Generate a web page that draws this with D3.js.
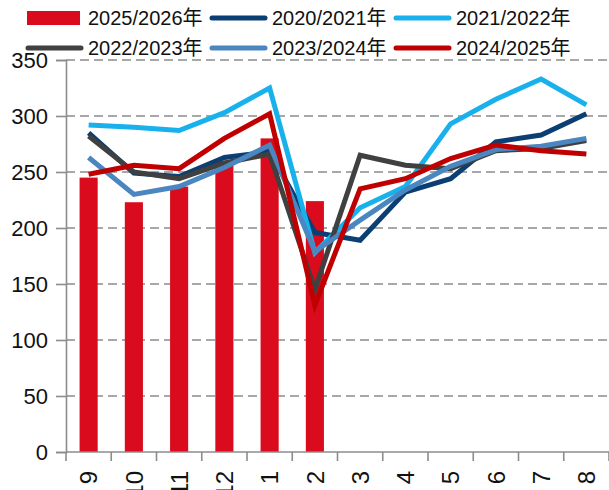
<!DOCTYPE html>
<html>
<head>
<meta charset="utf-8">
<script src="https://cdn.jsdelivr.net/npm/d3@7"></script>
<style>
  body { margin: 0; background: #fff; }
  text { font-family: "Liberation Sans", Arial, "Noto Sans CJK SC", sans-serif; fill: #111; }
</style>
</head>
<body>
<div id="chart"></div>
<script>
// 月份
const months = ["9", "10", "11", "12", "1", "2", "3", "4", "5", "6", "7", "8"];

// 柱状：2025/2026年
const bars2526 = [245, 223, 237, 260, 280, 224];

// 折线
const s2021 = [285, 249, 246, 263, 268, 196, 189, 232, 244, 277, 283, 302];
const s2122 = [292, 290, 287, 303, 325, 178, 218, 237, 293, 315, 333, 310];
const s2223 = [282, 250, 244, 258, 266, 145, 265, 256, 253, 269, 271, 278];
const s2324 = [263, 230, 237, 254, 274, 179, 207, 234, 255, 270, 273, 280];
const s2425 = [248, 256, 253, 280, 302, 131, 235, 244, 262, 274, 269, 266];

const yTicks = [0, 50, 100, 150, 200, 250, 300, 350];

const lineSeries = [
    { name: "2020/2021年", values: s2021, color: "#0b3f73" },
    { name: "2021/2022年", values: s2122, color: "#19b1ec" },
    { name: "2022/2023年", values: s2223, color: "#404040" },
    { name: "2023/2024年", values: s2324, color: "#4a86bf" },
    { name: "2024/2025年", values: s2425, color: "#c00000" }
];
const barColor = "#d90b1c";

const W = 609, H = 490;
const plotLeft = 66, plotRight = 609, plotTop = 60, plotBottom = 452;

const svg = d3.select("#chart").append("svg")
    .attr("width", W)
    .attr("height", H);

const x = d3.scaleBand()
    .domain(months)
    .range([plotLeft, plotRight])
    .paddingInner(0.6)
    .paddingOuter(0.3);

// 线的位置用 band 中心
const xc = d => x(d) + x.bandwidth() / 2;

const y = d3.scaleLinear()
    .domain([0, 350])
    .range([plotBottom, plotTop]);

// 网格线（虚线）
svg.append("g")
    .selectAll("line")
    .data(yTicks.filter(d => d > 0))
    .enter()
    .append("line")
    .attr("x1", plotLeft)
    .attr("x2", plotRight)
    .attr("y1", d => y(d))
    .attr("y2", d => y(d))
    .attr("stroke", "#8c8c8c")
    .attr("stroke-width", 1.6)
    .attr("stroke-dasharray", "9,5");

// y 轴
const yAxis = svg.append("g")
    .attr("transform", `translate(${plotLeft},0)`)
    .call(d3.axisLeft(y).tickValues(yTicks).tickSize(10).tickPadding(8));
yAxis.select(".domain").attr("stroke", "#8c8c8c").attr("stroke-width", 1.6);
yAxis.selectAll(".tick line").attr("stroke", "#8c8c8c").attr("stroke-width", 1.6);
yAxis.selectAll(".tick text")
    .attr("font-size", 22)
    .attr("fill", "#111")
    .style("font-family", "Liberation Sans, Arial, sans-serif");

// 柱子
svg.append("g")
    .selectAll("rect")
    .data(bars2526)
    .enter()
    .append("rect")
    .attr("x", (d, i) => x(months[i]))
    .attr("y", d => y(d))
    .attr("width", x.bandwidth())
    .attr("height", d => y(0) - y(d))
    .attr("fill", barColor);

// x 轴
const step = x.step();
const xAxisG = svg.append("g");
xAxisG.append("line")
    .attr("x1", plotLeft)
    .attr("x2", plotRight)
    .attr("y1", y(0))
    .attr("y2", y(0))
    .attr("stroke", "#8c8c8c")
    .attr("stroke-width", 1.6);
xAxisG.selectAll(".xtick")
    .data(d3.range(months.length + 1))
    .enter()
    .append("line")
    .attr("class", "xtick")
    .attr("x1", i => plotLeft + i * step)
    .attr("x2", i => plotLeft + i * step)
    .attr("y1", y(0))
    .attr("y2", y(0) + 9)
    .attr("stroke", "#8c8c8c")
    .attr("stroke-width", 1.6);
xAxisG.selectAll(".xlabel")
    .data(months)
    .enter()
    .append("text")
    .attr("class", "xlabel")
    .attr("transform", d => `translate(${xc(d)},${y(0) + 19}) rotate(-90)`)
    .attr("text-anchor", "end")
    .attr("dy", "0.36em")
    .attr("font-size", 24)
    .text(d => d);

// 折线
const line = d3.line()
    .x((d, i) => xc(months[i]))
    .y(d => y(d));

svg.append("g")
    .selectAll("path")
    .data(lineSeries)
    .enter()
    .append("path")
    .attr("d", d => line(d.values))
    .attr("fill", "none")
    .attr("stroke", d => d.color)
    .attr("stroke-width", 5)
    .attr("stroke-linejoin", "miter");

// 图例
const legendItems = [
    { name: "2025/2026年", color: barColor, type: "bar" },
    ...lineSeries.map(d => ({ name: d.name, color: d.color, type: "line" }))
];
const legend = svg.append("g");
const item = legend.selectAll("g")
    .data(legendItems)
    .enter()
    .append("g")
    .attr("transform", (d, i) => `translate(${26 + (i % 3) * 184},${i < 3 ? 18 : 48})`);

item.filter(d => d.type === "bar")
    .append("rect")
    .attr("x", 1)
    .attr("y", -7)
    .attr("width", 53)
    .attr("height", 14)
    .attr("fill", d => d.color);

item.filter(d => d.type === "line")
    .append("line")
    .attr("x1", 2)
    .attr("x2", 55)
    .attr("y1", 0)
    .attr("y2", 0)
    .attr("stroke", d => d.color)
    .attr("stroke-width", 5)
    .attr("stroke-linecap", "round");

item.append("text")
    .attr("x", 62)
    .attr("dy", "0.36em")
    .attr("font-size", 20)
    .text(d => d.name);
</script>
</body>
</html>
